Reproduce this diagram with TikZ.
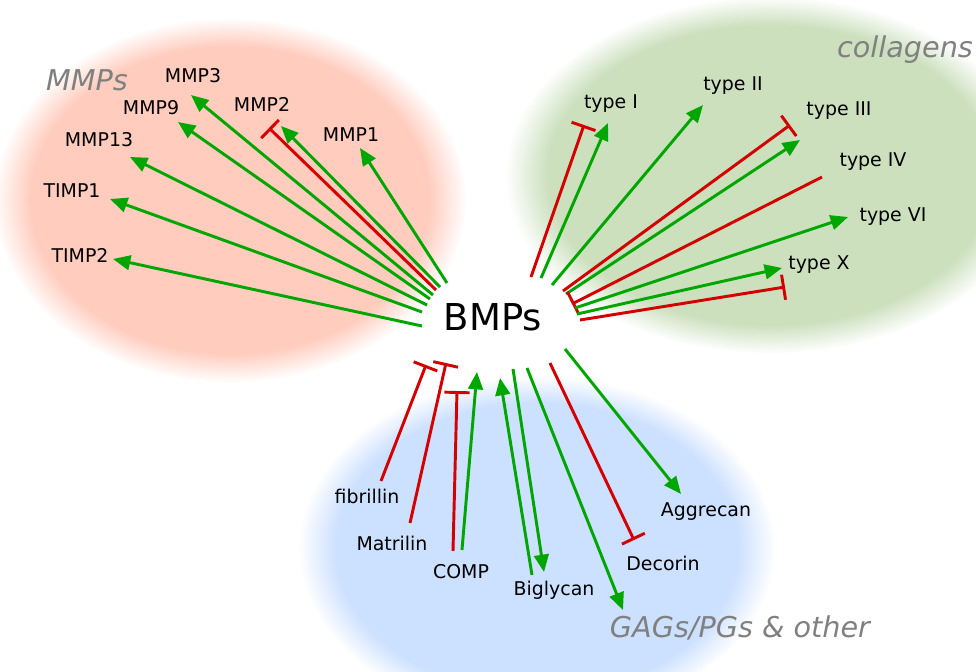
\documentclass[tikz,border=0pt]{standalone}
\usepackage{fontspec}
\setmainfont{DejaVu Sans}
\usetikzlibrary{arrows.meta,fadings}
\definecolor{blobred}{RGB}{255,204,190}
\definecolor{blobgreen}{RGB}{204,224,190}
\definecolor{blobblue}{RGB}{204,224,255}
\definecolor{agreen}{RGB}{0,166,0}
\definecolor{ired}{RGB}{212,0,0}
\definecolor{titlegray}{RGB}{128,128,128}
\pgfdeclareradialshading{blobfadeshade}{\pgfpointorigin}{color(0bp)=(pgftransparent!0); color(21bp)=(pgftransparent!0); color(25bp)=(pgftransparent!100); color(50bp)=(pgftransparent!100)}
\pgfdeclarefading{blobfade}{\pgfuseshading{blobfadeshade}}
\begin{document}
\begin{tikzpicture}[x=0.75pt,y=-0.75pt,
  lbl/.style={font=\fontsize{14.2}{17}\selectfont, inner sep=0pt},
  grp/.style={font=\fontsize{21.5}{25}\selectfont\itshape, text=titlegray, inner sep=0pt},
  act/.style={draw=agreen, line width=2.2pt, -{Triangle[length=13pt,width=11pt]}},
  inh/.style={draw=ired, line width=2.2pt, -{Bar[width=19pt]}}]
\useasboundingbox (0,0) rectangle (976,672);
% blobs
\fill[blobred, path fading=blobfade] (230,200) ellipse [x radius=236, y radius=182];
\fill[blobgreen, path fading=blobfade] (770,175) ellipse [x radius=264, y radius=178];
\fill[blobblue, path fading=blobfade] (537,548) ellipse [x radius=238, y radius=172];
% titles
\node[grp] (tmmp) at (87,80) {MMPs};
\node[grp] (tcol) at (905,50) {collagens};
\node[grp] (tgag) at (740,628) {GAGs/PGs \& other};
% centre
\node[font=\fontsize{27.75}{32}\selectfont, inner sep=0pt] (bmp) at (493,317) {BMPs};
% labels MMPs
\node[lbl] (mmp3) at (193,76) {MMP3};
\node[lbl] (mmp9) at (151,108) {MMP9};
\node[lbl] (mmp2) at (262,104) {MMP2};
\node[lbl] (mmp1) at (351,135) {MMP1};
\node[lbl] (mmp13) at (99,140) {MMP13};
\node[lbl] (timp1) at (72,191) {TIMP1};
\node[lbl] (timp2) at (80,255) {TIMP2};
% labels collagens
\node[lbl] (t1) at (611,104) {type I};
\node[lbl] (t2) at (733,86) {type II};
\node[lbl] (t3) at (839,111) {type III};
\node[lbl] (t4) at (873,162) {type IV};
\node[lbl] (t6) at (893,217) {type VI};
\node[lbl] (t10) at (819,265) {type X};
% labels GAGs
\node[lbl] (fib) at (367,496) {fibrillin};
\node[lbl] (mat) at (392,543) {Matrilin};
\node[lbl] (comp) at (461,572) {COMP};
\node[lbl] (big) at (554,590) {Biglycan};
\node[lbl] (dec) at (663,563) {Decorin};
\node[lbl] (agg) at (706,512) {Aggrecan};
% coordinates: MMP connectors
\coordinate (s-mmp1) at (447,283);  \coordinate (e-mmp1) at (360,148);
\coordinate (s-mmp2g) at (440,287); \coordinate (e-mmp2g) at (281,126);
\coordinate (s-mmp2r) at (436,290); \coordinate (e-mmp2r) at (269,128);
\coordinate (s-mmp3) at (433,295);  \coordinate (e-mmp3) at (191,95);
\coordinate (s-mmp9) at (430,299);  \coordinate (e-mmp9) at (178,122);
\coordinate (s-mmp13) at (427,305); \coordinate (e-mmp13) at (130,157);
\coordinate (s-timp1) at (422,312); \coordinate (e-timp1) at (110,199);
\coordinate (s-timp2) at (422,326); \coordinate (e-timp2) at (113,259);
\draw[act] (s-mmp1) -- (e-mmp1);
\draw[act] (s-mmp2g) -- (e-mmp2g);
\draw[inh] (s-mmp2r) -- (e-mmp2r);
\draw[act] (s-mmp3) -- (e-mmp3);
\draw[act] (s-mmp9) -- (e-mmp9);
\draw[act] (s-mmp13) -- (e-mmp13);
\draw[act] (s-timp1) -- (e-timp1);
\draw[act] (s-timp2) -- (e-timp2);
% collagen connectors
\coordinate (s-t1r) at (531,277);  \coordinate (e-t1r) at (584,125);
\coordinate (s-t1g) at (541,278);  \coordinate (e-t1g) at (608,123);
\coordinate (s-t2) at (552,285);   \coordinate (e-t2) at (703,105);
\coordinate (s-t3r) at (563,291);  \coordinate (e-t3r) at (790,125);
\coordinate (s-t3g) at (566,294);  \coordinate (e-t3g) at (800,140);
\coordinate (s-t4) at (822,177);   \coordinate (e-t4) at (572,304);
\coordinate (s-t6) at (575,308);   \coordinate (e-t6) at (848,217);
\coordinate (s-t10g) at (577,314); \coordinate (e-t10g) at (782,268);
\coordinate (s-t10r) at (580,320); \coordinate (e-t10r) at (785,287);
\draw[inh] (s-t1r) -- (e-t1r);
\draw[act] (s-t1g) -- (e-t1g);
\draw[act] (s-t2) -- (e-t2);
\draw[inh] (s-t3r) -- (e-t3r);
\draw[act] (s-t3g) -- (e-t3g);
\draw[inh] (s-t4) -- (e-t4);
\draw[act] (s-t6) -- (e-t6);
\draw[act] (s-t10g) -- (e-t10g);
\draw[inh] (s-t10r) -- (e-t10r);
% GAG connectors
\coordinate (s-fib) at (381,481);  \coordinate (e-fib) at (426,365);
\coordinate (s-mat) at (410,523);  \coordinate (e-mat) at (446,363);
\coordinate (s-compr) at (453,551); \coordinate (e-compr) at (457,391);
\coordinate (s-compg) at (462,550); \coordinate (e-compg) at (477,372);
\coordinate (s-bigu) at (532,575); \coordinate (e-bigu) at (500,378);
\coordinate (s-bigd) at (513,369); \coordinate (e-bigd) at (544,572);
\coordinate (s-gag) at (527,368);  \coordinate (e-gag) at (623,610);
\coordinate (s-dec) at (550,363);  \coordinate (e-dec) at (634,540);
\coordinate (s-agg) at (565,349);  \coordinate (e-agg) at (681,494);
\draw[inh] (s-fib) -- (e-fib);
\draw[inh] (s-mat) -- (e-mat);
\draw[inh] (s-compr) -- (e-compr);
\draw[act] (s-compg) -- (e-compg);
\draw[act] (s-bigu) -- (e-bigu);
\draw[act] (s-bigd) -- (e-bigd);
\draw[act] (s-gag) -- (e-gag);
\draw[inh] (s-dec) -- (e-dec);
\draw[act] (s-agg) -- (e-agg);
\end{tikzpicture}
\end{document}
